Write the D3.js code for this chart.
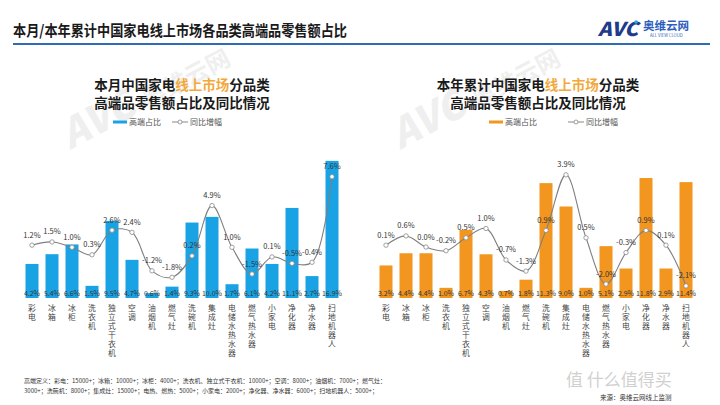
<!DOCTYPE html>
<html><head><meta charset="utf-8">
<script src="https://cdn.jsdelivr.net/npm/d3@7/dist/d3.min.js"></script>
<style>
body{margin:0;background:#fff;}
svg{display:block;font-family:"Noto Sans CJK SC","Noto Sans",sans-serif;}
.xl,.pt-title{font-family:"Liberation Sans","Noto Sans CJK SC",sans-serif;}
</style></head>
<body>
<svg id="c" width="720" height="405"></svg>
<script>
const categories = ["彩电","冰箱","冰柜","洗衣机","独立式干衣机","空调","油烟机","燃气灶","洗碗机","集成灶","电储水热水器","燃气热水器","小家电","净化器","净水器","扫地机器人"];
const monthShare = [4.2,5.4,6.6,1.5,9.5,4.7,0.6,1.4,9.3,10.0,1.7,6.1,4.2,11.1,2.7,16.9];
const monthYoY   = [1.2,1.5,1.0,0.3,2.6,2.4,-1.2,-1.8,0.2,4.9,1.0,-1.5,0.1,-0.5,-0.4,7.6];
const yearShare  = [3.2,4.4,4.4,1.0,6.7,4.3,0.7,1.8,11.3,9.0,1.0,5.1,2.9,11.8,2.9,11.4];
const yearYoY    = [0.1,0.6,0.0,-0.2,0.5,1.0,-0.7,-1.3,0.9,3.9,0.5,-2.0,-0.3,0.9,0.1,-2.1];

const svg = d3.select("#c");
const fmt = v => v.toFixed(1) + "%";

// faint background watermarks
function watermark(x, y){
  const g = svg.append("g").attr("transform", `translate(${x},${y}) rotate(-28)`).attr("opacity", 0.06);
  g.append("text").text("AVC").attr("font-size", 40).attr("font-weight", 900).attr("font-style","italic").attr("fill", "#000");
  g.append("text").text("奥维云网").attr("x", 88).attr("font-size", 24).attr("font-weight", 700).attr("fill", "#000");
}
watermark(70, 150);
watermark(400, 150);

// header
svg.append("text").attr("x", 13).attr("y", 36).text("本月/本年累计中国家电线上市场各品类高端品零售额占比")
  .attr("font-size", 15).attr("font-weight", 700).attr("fill", "#1a1a1a")
  .attr("textLength", 334).attr("lengthAdjust", "spacingAndGlyphs");
svg.append("rect").attr("x", 13).attr("y", 43).attr("width", 697).attr("height", 2).attr("fill", "#2e6db4");
// logo
svg.append("text").attr("x", 598).attr("y", 36).text("AVC").attr("font-size", 19).attr("font-weight", 900)
  .attr("font-style", "italic").attr("fill", "#1f3c8c").attr("textLength", 40).attr("lengthAdjust","spacingAndGlyphs");
svg.append("circle").attr("cx", 636).attr("cy", 22).attr("r", 1.8).attr("fill", "#2aa7e0");
svg.append("text").attr("x", 643).attr("y", 30).text("奥维云网").attr("font-size", 11.5).attr("font-weight", 700).attr("fill", "#2e5fbf");
svg.append("text").attr("x", 650).attr("y", 37).text("ALL VIEW CLOUD").attr("font-size", 4.2).attr("fill", "#2e5fbf");

function panel(cfg){
  const g = svg.append("g");
  const x = d3.scaleBand().domain(categories).range(cfg.xr).paddingInner(0.35).paddingOuter(0.175);
  const yb = d3.scaleLinear().domain(cfg.barDomain).range([298, cfg.barTop]);
  const yl = d3.scaleLinear().domain(cfg.lineDomain).range(cfg.lineRange);
  const cx = c => x(c) + x.bandwidth()/2;

  // titles
  const t1 = g.append("text").attr("class", "pt-title").attr("x", cfg.cx).attr("y", 90).attr("text-anchor", "middle")
    .attr("font-size", 13.5).attr("font-weight", 700).attr("fill", "#1a1a1a");
  t1.append("tspan").text(cfg.t1a);
  t1.append("tspan").text("线上市场").attr("fill", "#f2a93b");
  t1.append("tspan").text("分品类");
  g.append("text").attr("class", "pt-title").attr("x", cfg.cx).attr("y", 108).attr("text-anchor", "middle")
    .attr("font-size", 13.5).attr("font-weight", 700).attr("fill", "#1a1a1a").text("高端品零售额占比及同比情况");

  // legend
  const L = cfg.legend;
  g.append("rect").attr("x", L[0]).attr("y", 120.5).attr("width", 14).attr("height", 3).attr("fill", cfg.color);
  g.append("text").attr("x", L[0] + 16).attr("y", 125).text("高端占比").attr("font-size", 8).attr("fill", "#555");
  g.append("line").attr("x1", L[1]).attr("x2", L[1] + 16).attr("y1", 122).attr("y2", 122).attr("stroke", "#888").attr("stroke-width", 1);
  g.append("circle").attr("cx", L[1] + 8).attr("cy", 122).attr("r", 2).attr("fill", "#fff").attr("stroke", "#888").attr("stroke-width", 0.8);
  g.append("text").attr("x", L[1] + 18).attr("y", 125).text("同比增幅").attr("font-size", 8).attr("fill", "#555");

  // bars
  g.selectAll("rect.bar").data(cfg.share).join("rect").attr("class", "bar")
    .attr("x", (d, i) => x(categories[i])).attr("width", x.bandwidth())
    .attr("y", d => yb(d)).attr("height", d => yb(0) - yb(d)).attr("fill", cfg.color);

  // bar value labels
  g.selectAll("text.bv").data(cfg.share).join("text").attr("class", "bv")
    .attr("x", (d, i) => cx(categories[i])).attr("y", 295.5).attr("text-anchor", "middle")
    .attr("font-size", 7).attr("fill", "#333").text(d => fmt(d));

  // line
  const line = d3.line().x((d, i) => cx(categories[i])).y(d => yl(d)).curve(d3.curveCatmullRom.alpha(0.5));
  g.append("path").attr("d", line(cfg.yoy)).attr("fill", "none").attr("stroke", "#7f7f7f").attr("stroke-width", 1.1);
  g.selectAll("circle.pt").data(cfg.yoy).join("circle").attr("class", "pt")
    .attr("cx", (d, i) => cx(categories[i])).attr("cy", d => yl(d)).attr("r", 2.2)
    .attr("fill", "#fff").attr("stroke", "#8a8a8a").attr("stroke-width", 0.8);
  g.selectAll("text.lv").data(cfg.yoy).join("text").attr("class", "lv")
    .attr("x", (d, i) => cx(categories[i])).attr("y", d => yl(d) - 7.5).attr("text-anchor", "middle")
    .attr("font-size", 7.5).attr("fill", "#333").text(d => fmt(d));

  // x labels (vertical, one character per text)
  categories.forEach(c => {
    [...c].forEach((ch, k) => g.append("text").attr("class", "xl").attr("x", cx(c)).attr("y", 311 + k * 9)
      .attr("text-anchor", "middle").attr("font-size", 7.8).attr("fill", "#444").text(ch));
  });
}

panel({xr:[22,342], barDomain:[0,17.5], barTop:156, lineDomain:[-2,8], lineRange:[279.4,172.4],
  share:monthShare, yoy:monthYoY, color:"#1aa3e4", cx:182, t1a:"本月中国家电", legend:[113,172]});
panel({xr:[376,696], barDomain:[0,12], barTop:176, lineDomain:[-2.5,4], lineRange:[293.3,173],
  share:yearShare, yoy:yearYoY, color:"#f2961f", cx:538, t1a:"本年累计中国家电", legend:[489,568]});

// footer
svg.append("text").attr("x", 24).attr("y", 383).attr("font-size", 6).attr("fill", "#333")
  .text("高端定义：彩电：15000+；冰箱：10000+；冰柜：4000+；洗衣机、独立式干衣机：10000+；空调：8000+；油烟机：7000+；燃气灶：");
svg.append("text").attr("x", 24).attr("y", 393).attr("font-size", 6).attr("fill", "#333")
  .text("3000+；洗碗机：8000+；集成灶：15000+；电热、燃热：5000+；小家电：2000+；净化器、净水器：6000+；扫地机器人：5000+；");
svg.append("text").attr("x", 566).attr("y", 386).attr("font-size", 17).attr("fill", "#999").attr("opacity", 0.45).text("值 什么值得买");
svg.append("text").attr("x", 600).attr("y", 400).attr("font-size", 6.5).attr("fill", "#333").text("来源：奥维云网线上监测");
</script>
</body></html>
